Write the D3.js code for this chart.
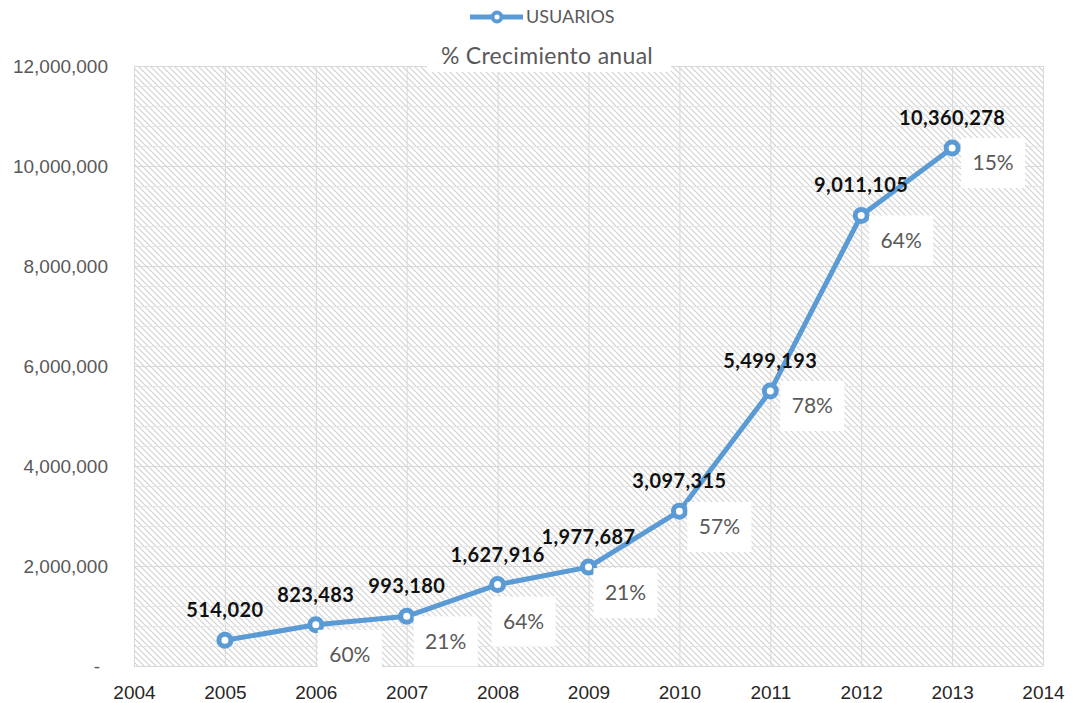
<!DOCTYPE html>
<html>
<head>
<meta charset="utf-8">
<script src="https://cdn.jsdelivr.net/npm/d3@7"></script>
<style>
  html, body { margin: 0; padding: 0; background: #fff; }
  svg { display: block; font-family: Lato, "Open Sans", sans-serif; }
</style>
</head>
<body>
<svg id="chart" width="1073" height="703"></svg>
<script>
// Users per year and the year-over-year growth shown beside each point
const years = [2005, 2006, 2007, 2008, 2009, 2010, 2011, 2012, 2013];
const usuarios = [514020, 823483, 993180, 1627916, 1977687, 3097315, 5499193, 9011105, 10360278];
const crecimiento = [null, 60, 21, 64, 21, 57, 78, 64, 15];
const xTicks = [2004, 2005, 2006, 2007, 2008, 2009, 2010, 2011, 2012, 2013, 2014];
const yTicks = [0, 2000000, 4000000, 6000000, 8000000, 10000000, 12000000];

// Placement of the growth callouts relative to their point (layout only)
const calloutNudge = [null, [34, 30], [39, 25], [26, 37], [37, 26], [40, 16], [42, 15], [40, 25], [41, 15]];

const svg = d3.select("#chart");
const plotL = 134, plotR = 1043, plotT = 66, plotB = 666;

const x = d3.scaleLinear().domain([2004, 2014]).range([plotL, plotR]);
const y = d3.scaleLinear().domain([0, 12000000]).range([plotB, plotT]);

const blue = "#5B9BD5";
const gray = "#595959";

// Diagonal hatch fill for the plot area
const defs = svg.append("defs");
const pat = defs.append("pattern")
  .attr("id", "hatch").attr("patternUnits", "userSpaceOnUse")
  .attr("width", 6).attr("height", 6);
pat.append("rect").attr("width", 6).attr("height", 6).attr("fill", "#fff");
pat.append("path")
  .attr("d", "M0,0 L6,6 M-1,5 L1,7 M5,-1 L7,1")
  .attr("stroke", "#d2d2d2").attr("stroke-width", 1.2);

svg.append("rect")
  .attr("x", plotL).attr("y", plotT)
  .attr("width", plotR - plotL).attr("height", plotB - plotT)
  .attr("fill", "url(#hatch)");

// Minor and major gridlines
const grid = svg.append("g");
grid.selectAll("line.minor")
  .data(d3.range(0, 12000000, 400000).filter(v => v % 2000000 !== 0))
  .join("line").attr("class", "minor")
  .attr("x1", plotL).attr("x2", plotR)
  .attr("y1", d => y(d) + 0.5).attr("y2", d => y(d) + 0.5)
  .attr("stroke", "#e6e6e6").attr("stroke-width", 1);
grid.selectAll("line.hmajor")
  .data(yTicks)
  .join("line").attr("class", "hmajor")
  .attr("x1", plotL).attr("x2", plotR)
  .attr("y1", d => y(d) + 0.5).attr("y2", d => y(d) + 0.5)
  .attr("stroke", "#d9d9d9").attr("stroke-width", 1);
grid.selectAll("line.vmajor")
  .data(xTicks)
  .join("line").attr("class", "vmajor")
  .attr("x1", d => x(d) + 0.5).attr("x2", d => x(d) + 0.5)
  .attr("y1", plotT).attr("y2", plotB)
  .attr("stroke", "#d9d9d9").attr("stroke-width", 1);

// Axes (labels only)
const yAxis = d3.axisLeft(y).tickValues(yTicks).tickSize(0).tickPadding(0)
  .tickFormat(d => d === 0 ? "-" : d3.format(",")(d));
const gy = svg.append("g").attr("transform", `translate(${plotL - 26},0)`).call(yAxis);
gy.select(".domain").remove();
gy.selectAll("text")
  .attr("fill", gray).style("font-size", "19px").attr("dy", "0.35em")
  .attr("dx", d => d === 0 ? -8 : 0);

const xAxis = d3.axisBottom(x).tickValues(xTicks).tickSize(0).tickPadding(0)
  .tickFormat(d3.format("d"));
const gx = svg.append("g").attr("transform", `translate(0,${plotB + 26})`).call(xAxis);
gx.select(".domain").remove();
gx.selectAll("text")
  .attr("fill", "#262626").style("font-size", "19px").attr("dy", "0.35em");

// Data line with hollow markers
const pts = years.map((yr, i) => ({ yr, v: usuarios[i], g: crecimiento[i], n: calloutNudge[i] }));

svg.append("path")
  .datum(pts)
  .attr("fill", "none").attr("stroke", blue).attr("stroke-width", 5)
  .attr("stroke-linejoin", "round")
  .attr("d", d3.line().x(d => x(d.yr)).y(d => y(d.v)));

svg.selectAll("circle.pt")
  .data(pts).join("circle").attr("class", "pt")
  .attr("cx", d => x(d.yr)).attr("cy", d => y(d.v)).attr("r", 6)
  .attr("fill", "#fff").attr("stroke", blue).attr("stroke-width", 5);

// Growth callouts
const callouts = svg.selectAll("g.callout")
  .data(pts.filter(d => d.g !== null)).join("g").attr("class", "callout")
  .attr("transform", d => `translate(${x(d.yr) + d.n[0]},${y(d.v) + d.n[1]})`);
callouts.append("rect")
  .attr("x", -32).attr("y", -25).attr("width", 64).attr("height", 50)
  .attr("fill", "#fff");
callouts.append("text")
  .attr("text-anchor", "middle").attr("dy", "0.35em")
  .attr("fill", gray).style("font-size", "21px")
  .text(d => d.g + "%");

// Value labels above points
svg.selectAll("text.val")
  .data(pts).join("text").attr("class", "val")
  .attr("x", d => x(d.yr)).attr("y", d => y(d.v) - 30)
  .attr("text-anchor", "middle").attr("dy", "0.35em")
  .attr("fill", "#111").style("font-size", "20px").style("font-weight", "bold")
  .style("letter-spacing", "0.4px")
  .text(d => d3.format(",")(d.v));

// Title with its white backing
const title = svg.append("g").attr("transform", "translate(547,56)");
title.append("rect").attr("x", -120).attr("y", -16).attr("width", 244).attr("height", 32).attr("fill", "#fff");
title.append("text").attr("text-anchor", "middle").attr("dy", "0.35em")
  .attr("fill", gray).style("font-size", "23px").style("letter-spacing", "0.3px")
  .text("% Crecimiento anual");

// Legend
const lg = svg.append("g").attr("transform", "translate(470,17)");
lg.append("line").attr("x1", 0).attr("x2", 53).attr("stroke", blue).attr("stroke-width", 5);
lg.append("circle").attr("cx", 27).attr("r", 4.5).attr("fill", "#fff").attr("stroke", blue).attr("stroke-width", 4);
lg.append("text").attr("x", 56).attr("dy", "0.35em").attr("fill", gray)
  .style("font-size", "18px").text("USUARIOS");
</script>
</body>
</html>
